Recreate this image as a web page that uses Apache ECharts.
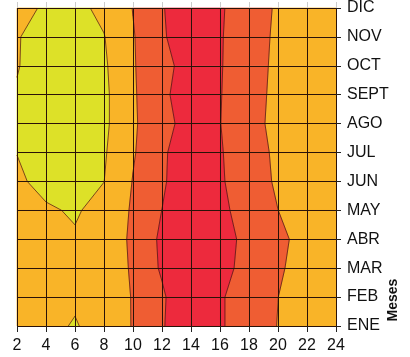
<!DOCTYPE html>
<html><head><meta charset="utf-8">
<script src="https://cdn.jsdelivr.net/npm/echarts@6/dist/echarts.min.js"></script>
<style>html,body{margin:0;padding:0;background:#fff}#c{width:410px;height:357px}</style>
</head><body><div id="c"></div>
<script>
// Hours (x) and months (y)
const hours = [2, 4, 6, 8, 10, 12, 14, 16, 18, 20, 22, 24];
const months = ['ENE', 'FEB', 'MAR', 'ABR', 'MAY', 'JUN', 'JUL', 'AGO', 'SEPT', 'OCT', 'NOV', 'DIC'];
// Contour thresholds and band colours (lowest band first)
const levels = [24, 28, 32];
const bandColors = ['#DDE128', '#F9B428', '#EF5D33', '#ED2A3D'];
// Values per month, one per hour in `hours`
const ENE  = [25, 25.74, 23.48, 27, 28.08, 31.56, 36, 32.41, 30, 27.9, 26, 25.5];
const FEB  = [25, 25, 25, 25.5, 28.22, 31.35, 36, 32.41, 30, 28.02, 26, 25.5];
const MAR  = [25, 25, 25, 25.5, 28.48, 32.53, 36, 32.94, 31, 28.63, 26, 25.5];
const ABR  = [25, 25, 24.315, 25.5, 28.69, 32.75, 36, 33.35, 31, 29.28, 26, 25.5];
const MAY  = [25, 24.37, 23.685, 25.05, 28.48, 32.04, 36, 32.79, 30.5, 28.02, 26, 25.5];
const JUN  = [24.5, 23.09, 22, 23.97, 28.15, 31.24, 36, 32.41, 30, 27.44, 26, 25.5];
const JUL  = [23.95, 22, 21.8, 23.61, 27.68, 31.03, 36, 32.26, 30, 27.14, 26, 25.5];
const AGO  = [23.5, 21.8, 21.5, 23.12, 27.86, 28.73, 36, 32.06, 30, 26.36, 26, 25.5];
const SEPT = [23.7, 22, 21.5, 23.17, 27.63, 30.48, 36, 32.13, 30, 26.72, 26, 25.5];
const OCT  = [24.2, 22.2, 22, 23.42, 27.89, 29.04, 36, 32.21, 30, 27, 26, 25.5];
const NOV  = [24.3, 22, 22, 23.86, 27.76, 31.24, 36, 32.26, 30, 27.24, 26, 25.5];
const DIC  = [25, 23.6, 23, 24.9, 28.1, 31.6, 36, 32.4, 30, 27.5, 26, 25.5];
const rows = [ENE, FEB, MAR, ABR, MAY, JUN, JUL, AGO, SEPT, OCT, NOV, DIC];

const cells = [];
for (let j = 0; j < months.length - 1; j++)
  for (let i = 0; i < hours.length - 1; i++) cells.push([i, j]);

function corners(api) {
  const i = api.value(0), j = api.value(1);
  const pts = [[i, j], [i + 1, j], [i + 1, j + 1], [i, j + 1]];
  return pts.map(([a, b]) => {
    const p = api.coord([hours[a], b + 1]);
    return [p[0], p[1], rows[b][a]];
  });
}
function inter(P, Q, t0) {
  const t = (t0 - P[2]) / (Q[2] - P[2]);
  return [P[0] + t * (Q[0] - P[0]), P[1] + t * (Q[1] - P[1]), t0];
}
function clip(poly, thr, above) {
  const out = [];
  for (let n = 0; n < poly.length; n++) {
    const P = poly[n], Q = poly[(n + 1) % poly.length];
    const pin = above ? P[2] >= thr : P[2] <= thr;
    const qin = above ? Q[2] >= thr : Q[2] <= thr;
    if (pin && qin) out.push(Q);
    else if (pin && !qin) out.push(inter(P, Q, thr));
    else if (!pin && qin) { out.push(inter(P, Q, thr)); out.push(Q); }
  }
  return out;
}
function renderFill(params, api) {
  const c = corners(api);
  const children = [];
  for (let k = 0; k < bandColors.length; k++) {
    let poly = c;
    if (k > 0) poly = clip(poly, levels[k - 1], true);
    if (poly.length >= 3 && k < levels.length) poly = clip(poly, levels[k], false);
    if (poly.length >= 3) {
      children.push({
        type: 'polygon',
        shape: { points: poly.map(p => [p[0], p[1]]) },
        style: { fill: bandColors[k], stroke: bandColors[k], lineWidth: 0.7 }
      });
    }
  }
  return { type: 'group', children };
}
function renderLines(params, api) {
  const c = corners(api);
  const children = [];
  levels.forEach(thr => {
    const pts = [];
    for (let n = 0; n < 4; n++) {
      const P = c[n], Q = c[(n + 1) % 4];
      if ((P[2] < thr) !== (Q[2] < thr)) pts.push(inter(P, Q, thr));
    }
    const segs = [];
    if (pts.length === 2) segs.push([pts[0], pts[1]]);
    else if (pts.length === 4) {
      const avg = (c[0][2] + c[1][2] + c[2][2] + c[3][2]) / 4;
      if ((avg < thr) === (c[0][2] < thr)) { segs.push([pts[0], pts[1]]); segs.push([pts[2], pts[3]]); }
      else { segs.push([pts[0], pts[3]]); segs.push([pts[1], pts[2]]); }
    }
    segs.forEach(s => children.push({
      type: 'line',
      shape: { x1: s[0][0], y1: s[0][1], x2: s[1][0], y2: s[1][1] },
      style: { stroke: 'rgba(60,20,10,0.85)', lineWidth: 0.8 }
    }));
  });
  return { type: 'group', children };
}

const font = "'Liberation Sans', Arial, sans-serif";
const chart = echarts.init(document.getElementById('c'), null, { renderer: 'canvas' });
chart.setOption({
  animation: false,
  backgroundColor: '#fff',
  grid: { left: 17, right: 74, top: 6, bottom: 31 },
  xAxis: [{
    type: 'value', min: 2, max: 24, interval: 2, position: 'bottom', z: 10,
    axisLine: { show: false },
    axisTick: { show: true, length: 6, lineStyle: { color: '#222' } },
    axisLabel: { fontSize: 16, color: '#111', margin: 12, fontFamily: font },
    splitLine: { show: true, lineStyle: { color: '#2a1208', width: 1 } }
  }, {
    type: 'value', min: 2, max: 24, interval: 2, position: 'top', z: 10,
    axisLine: { show: false },
    axisTick: { show: true, length: 6, lineStyle: { color: '#ccc' } },
    axisLabel: { show: false },
    splitLine: { show: false }
  }],
  yAxis: {
    type: 'value', min: 1, max: 12, interval: 1, position: 'right', z: 10,
    axisLine: { show: false },
    axisTick: { show: true, length: 5, lineStyle: { color: '#222' } },
    axisLabel: { fontSize: 16, color: '#111', margin: 11, fontFamily: font,
      formatter: v => months[v - 1] },
    splitLine: { show: true, lineStyle: { color: '#2a1208', width: 1 } }
  },
  graphic: [{
    type: 'text', x: 393, y: 300, rotation: Math.PI / 2,
    style: { text: 'Meses', font: "bold 14px 'Liberation Sans', Arial", fill: '#111',
      textAlign: 'center', textVerticalAlign: 'middle' }
  }],
  series: [
    { type: 'custom', renderItem: renderFill, data: cells, z: 2, silent: true },
    { type: 'custom', renderItem: renderLines, data: cells, z: 3, silent: true }
  ]
});
</script></body></html>
